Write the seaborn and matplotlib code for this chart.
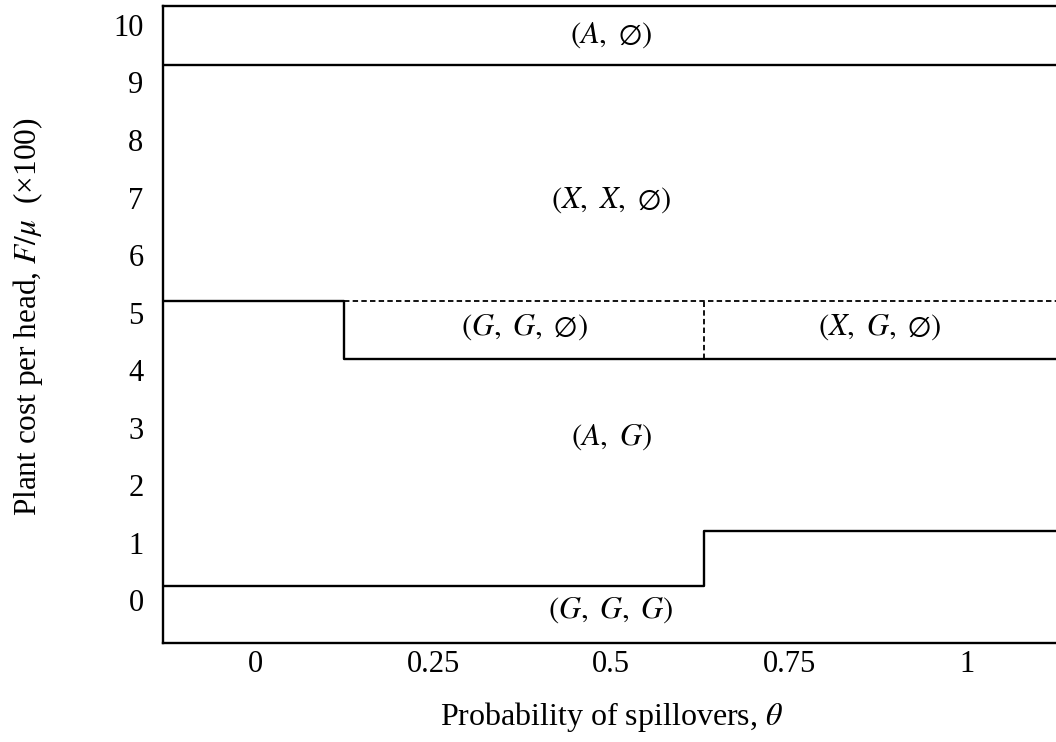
import matplotlib
matplotlib.use("Agg")
import matplotlib.pyplot as plt
import pandas as pd
import seaborn as sns

# x range of the plot (probability of spillovers)
theta_lim = [-0.13, 1.125]
theta_ticks = [0, 0.25, 0.5, 0.75, 1]
theta_ticklabels = ["0", "0.25", "0.5", "0.75", "1"]
cost_ticks = list(range(0, 11))

# region boundaries (solid)
top_x = [-0.13, 1.125]
top_y = [9.3, 9.3]
mid_x = [-0.13, 0.125, 0.125, 1.125]
mid_y = [5.2, 5.2, 4.2, 4.2]
low_x = [-0.13, 0.63, 0.63, 1.125]
low_y = [0.25, 0.25, 1.2, 1.2]

# dashed boundaries
dash_h_x = [0.125, 1.125]
dash_h_y = [5.2, 5.2]
dash_v_x = [0.63, 0.63]
dash_v_y = [4.2, 5.2]

# region labels
region_names = [
    r"$(A,\ \emptyset)$",
    r"$(X,\ X,\ \emptyset)$",
    r"$(G,\ G,\ \emptyset)$",
    r"$(X,\ G,\ \emptyset)$",
    r"$(A,\ G)$",
    r"$(G,\ G,\ G)$",
]
region_x = [0.5, 0.5, 0.378, 0.877, 0.5, 0.5]
region_y = [9.83, 6.96, 4.75, 4.75, 2.83, -0.17]

sns.set_theme(style="white")
plt.rcParams["font.family"] = ["Liberation Serif", "DejaVu Serif"]
plt.rcParams["mathtext.fontset"] = "stix"

fig = plt.figure(figsize=(10.56, 7.42), dpi=100)
ax = fig.add_axes([163 / 1056, 1 - 642.7 / 742, 1 - 163 / 1056, (642.7 - 6) / 742])

solid = [(top_x, top_y), (mid_x, mid_y), (low_x, low_y)]
for xs, ys in solid:
    df = pd.DataFrame({"theta": xs, "cost": ys})
    sns.lineplot(data=df, x="theta", y="cost", sort=False, estimator=None,
                 color="black", lw=1.7, ax=ax)

for xs, ys in [(dash_h_x, dash_h_y), (dash_v_x, dash_v_y)]:
    df = pd.DataFrame({"theta": xs, "cost": ys})
    sns.lineplot(data=df, x="theta", y="cost", sort=False, estimator=None,
                 color="black", lw=1.3, linestyle=(0, (3.0, 1.8)), ax=ax)

for name, x, y in zip(region_names, region_x, region_y):
    ax.text(x, y, name, ha="center", va="center", fontsize=22, color="black")

ax.set_xlim(theta_lim)
ax.set_ylim(-0.74, 10.33)
ax.set_xticks(theta_ticks)
ax.set_xticklabels(theta_ticklabels)
ax.set_yticks(cost_ticks)
ax.tick_params(axis="both", length=0, labelsize=22, colors="black")
ax.tick_params(axis="x", pad=5)
ax.tick_params(axis="y", pad=14)

for side in ["left", "top", "bottom"]:
    ax.spines[side].set_color("black")
    ax.spines[side].set_linewidth(1.7)
ax.spines["right"].set_visible(False)

ax.set_xlabel(r"Probability of spillovers, $\theta$", fontsize=23, color="black")
ax.set_ylabel(r"Plant cost per head, $F/\mu$  (×100)", fontsize=22.5, color="black")
ax.xaxis.set_label_coords(0.502, -0.09)
ax.yaxis.set_label_coords(-0.132, 0.512)

fig.savefig("out.png", dpi=100)
plt.close(fig)
